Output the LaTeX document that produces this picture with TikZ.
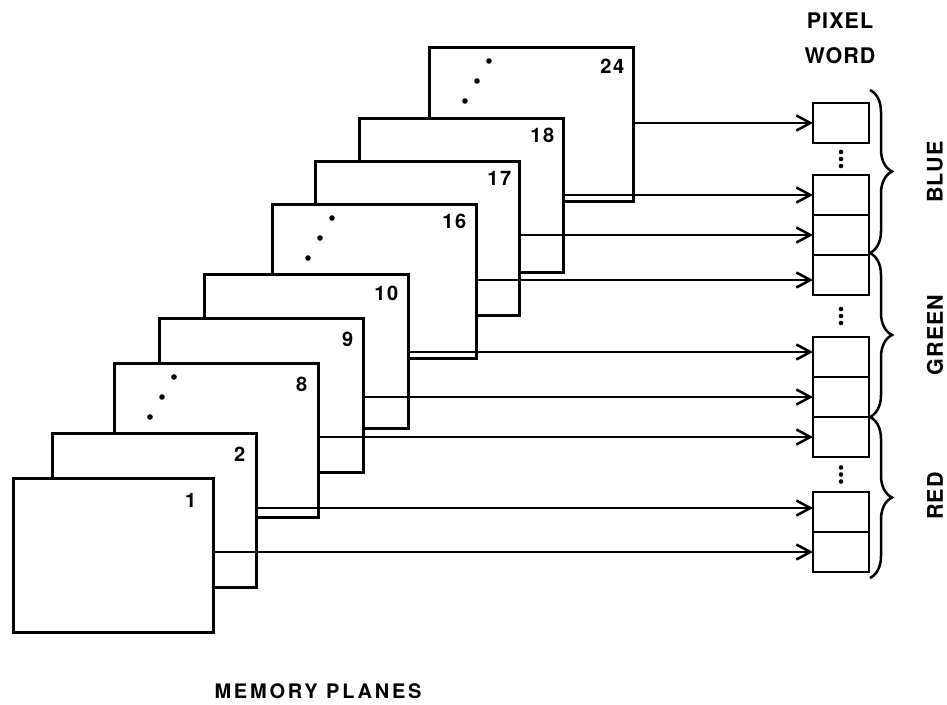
\documentclass[tikz,border=0pt]{standalone}
\usepackage{fontspec}
\setmainfont{TeX Gyre Heros}
\usetikzlibrary{arrows.meta, calc, positioning, decorations.pathreplacing}

\begin{document}
\begin{tikzpicture}[x=1pt, y=-1pt, line width=2.5pt,
    plane/.style={rectangle, draw, fill=white, minimum width=204pt, minimum height=154pt, anchor=north west},
    num/.style={inner sep=0pt, font=\fontsize{20}{22}\selectfont\bfseries\addfontfeature{LetterSpace=8}},
    cell/.style={rectangle, draw, minimum width=56pt, minimum height=40pt, outer sep=0pt},
    word/.style={inner sep=0pt, align=center, font=\fontsize{21.5}{35}\selectfont\bfseries\addfontfeature{LetterSpace=5}},
    title/.style={inner sep=0pt, font=\fontsize{20}{22}\selectfont\bfseries\addfontfeature{LetterSpace=14}},
    arrow/.style={-{Straight Barb[length=14pt, width=15pt]}},
    brace/.style={decorate, decoration={brace, amplitude=22pt}}]
    \useasboundingbox (0,0) rectangle (947,704);

    % memory planes, back to front
    \node[plane] (p24) at (428,46) {};
    \node[num, below left=12pt and 9pt of p24.north east] (n24) {24};
    \node[plane] (p18) at (358,117) {};
    \node[num, below left=10pt and 9pt of p18.north east] (n18) {18};
    \node[plane] (p17) at (314,160) {};
    \node[num, below left=10pt and 8pt of p17.north east] (n17) {17};
    \node[plane] (p16) at (271,203) {};
    \node[num, below left=10pt and 10pt of p16.north east] (n16) {16};
    \node[plane] (p10) at (203,273) {};
    \node[num, below left=12pt and 10pt of p10.north east] (n10) {10};
    \node[plane] (p9) at (158,317) {};
    \node[num, below left=14pt and 10pt of p9.north east] (n9) {9};
    \node[plane] (p8) at (113,362) {};
    \node[num, below left=14pt and 11pt of p8.north east] (n8) {8};
    \node[plane] (p2) at (51,432) {};
    \node[num, below left=14pt and 11pt of p2.north east] (n2) {2};
    \node[plane, minimum width=200pt] (p1) at (12,477) {};
    \node[num, below left=15pt and 17pt of p1.north east] (n1) {1};

    \foreach \p in {p24,p16,p8} {
        \fill ([shift={(61,15)}]\p.north west) circle (2.8pt);
        \fill ([shift={(49,35)}]\p.north west) circle (2.8pt);
        \fill ([shift={(37,55)}]\p.north west) circle (2.8pt);
    }

    % pixel word
    \node[cell] (c24) at (841,123) {};
    \node[cell] (c18) at (841,195) {};
    \node[cell, below=0pt of c18] (c17) {};
    \node[cell, below=0pt of c17] (c16) {};
    \node[cell] (c10) at (841,357) {};
    \node[cell, below=0pt of c10] (c9) {};
    \node[cell, below=0pt of c9] (c8) {};
    \node[cell] (c2) at (841,512) {};
    \node[cell, below=0pt of c2] (c1) {};

    \foreach \a/\b in {c24/c18, c16/c10, c8/c2}
        \foreach \d in {-7,0,7}
            \fill ([yshift=\d pt]$(\a.south)!0.5!(\b.north)$) circle (2.3pt);

    \draw[arrow] (p24.east |- c24.west) -- (c24.west);
    \draw[arrow] (p18.east |- c18.west) -- (c18.west);
    \draw[arrow] (p17.east |- c17.west) -- (c17.west);
    \draw[arrow] ([yshift=-5pt]p16.east |- c16.west) -- ([yshift=-5pt]c16.west);
    \draw[arrow] ([yshift=5pt]p10.east |- c10.west) -- ([yshift=5pt]c10.west);
    \draw[arrow] (p9.east |- c9.west) -- (c9.west);
    \draw[arrow] (p8.east |- c8.west) -- (c8.west);
    \draw[arrow] ([yshift=4pt]p2.east |- c2.west) -- ([yshift=4pt]c2.west);
    \draw[arrow] (p1.east |- c1.west) -- (c1.west);

    \draw[brace] (870,90) -- (870,253);
    \draw[brace] (870,253) -- (870,417);
    \draw[brace] (870,417) -- (870,578);

    \node[word] (pixword) at (840,38) {PIXEL\\WORD};
    \node[word, rotate=90] (blue) at (935,172) {BLUE};
    \node[word, rotate=90] (green) at (935,335) {GREEN};
    \node[word, rotate=90] (red) at (935,496) {RED};
    \node[title] (memory) at (318,691) {MEMORY PLANES};
\end{tikzpicture}
\end{document}
